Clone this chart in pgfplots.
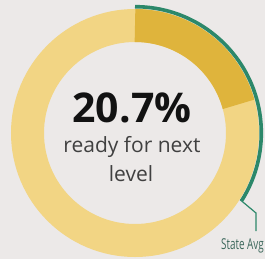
\documentclass[border=0pt]{standalone}
\usepackage{pgfplots}
\pgfplotsset{compat=1.18}
\usepackage{fontspec}
\setmainfont{Open Sans}
\definecolor{bgcol}{RGB}{236,233,232}
\definecolor{ringcol}{RGB}{242,213,132}
\definecolor{goldcol}{RGB}{223,180,60}
\definecolor{greencol}{RGB}{44,136,106}
\definecolor{labcol}{RGB}{60,104,92}
\definecolor{txtcol}{RGB}{64,64,64}
% data: school value and state average, in percent
\def\schoolval{20.7}
\def\stateval{34}
\begin{document}
\begin{tikzpicture}
\begin{axis}[scale only axis, width=265pt, height=259pt,
  xmin=0, xmax=265, ymin=0, ymax=259, y dir=reverse, hide axis, clip=true]
  \fill[bgcol] (axis cs:0,0) rectangle (axis cs:265,259);
  \coordinate (c) at (axis cs:135,133);
  \draw[line width=33pt, ringcol] (c) circle[radius=107.5pt];
  \pgfmathsetmacro\aend{90-\schoolval*3.6}
  \draw[line width=33pt, goldcol] (c) ++(90:107.5pt) arc[start angle=90, end angle=\aend, radius=107.5pt];
  \pgfmathsetmacro\send{90-\stateval*3.6}
  \draw[line width=3.6pt, greencol] (c) ++(90:126.3pt) arc[start angle=90, end angle=\send, radius=126.3pt];
  \draw[line width=1.2pt, greencol] (c) ++(\send:124.5pt) -- (axis cs:256,213) -- (axis cs:256,231);
  \node[anchor=base west, inner sep=0pt, text=labcol, font=\fontsize{15}{15}\selectfont, xscale=0.66] at (axis cs:221,249.5) {State Avg};
  \node[anchor=base, inner sep=0pt, text=black!93, font=\fontsize{41}{41}\selectfont\bfseries] at (axis cs:132,123) {20.7\%};
  \node[anchor=base, inner sep=0pt, text=txtcol, font=\fontsize{21}{21}\selectfont] at (axis cs:132,153) {ready for next};
  \node[anchor=base, inner sep=0pt, text=txtcol, font=\fontsize{21}{21}\selectfont] at (axis cs:131,182) {level};
\end{axis}
\end{tikzpicture}
\end{document}
